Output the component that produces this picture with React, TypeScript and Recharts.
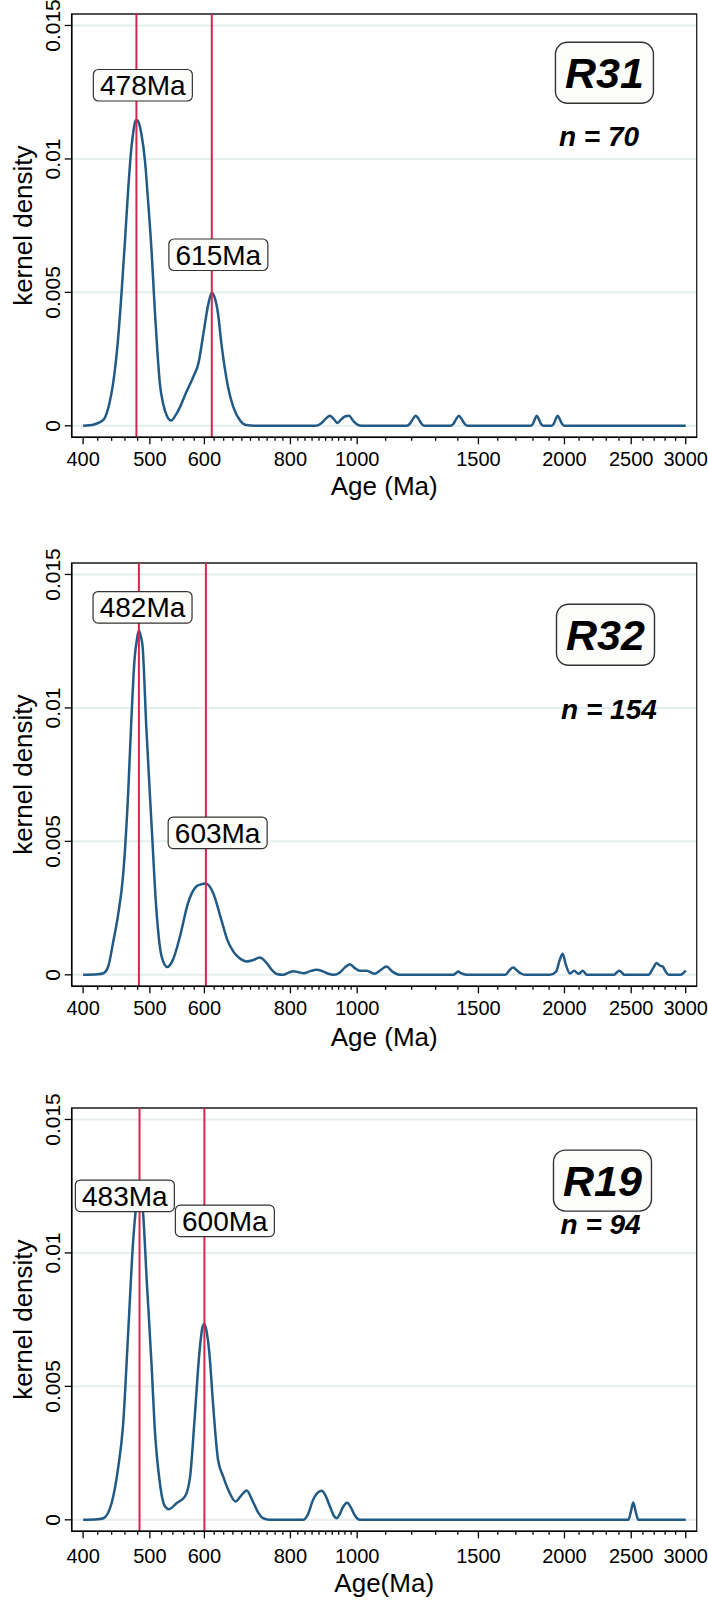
import React from "react";
import {
  LineChart,
  Line,
  XAxis,
  YAxis,
  CartesianGrid,
  ReferenceLine,
  ReferenceDot,
  ReferenceArea,
  Label,
} from "recharts";

const NARROW = "'Liberation Sans Narrow', 'Arial Narrow', 'Liberation Sans', Arial, sans-serif";
const SANS = "'Liberation Sans', Arial, Helvetica, sans-serif";

const AGE_MIN = 385;
const AGE_MAX = 3112;
const DENS_MIN = -0.00043;
const DENS_MAX = 0.01543;

const majorTicks = [400, 500, 600, 800, 1000, 1500, 2000, 2500, 3000];
const minorTicks = [
  420, 440, 460, 480, 520, 540, 560, 580, 620, 640, 660, 680, 700, 720, 740, 760, 780,
  820, 840, 860, 880, 900, 920, 940, 960, 980, 1100, 1200, 1300, 1400, 1600, 1700, 1800,
  1900, 2100, 2200, 2300, 2400, 2600, 2700, 2800, 2900,
];
const densityTicks = [0, 0.005, 0.01, 0.015];

// R31 kernel density
const r31Age = [
  400, 415, 428, 436, 442, 449, 455, 460, 465, 470, 473, 476, 478, 481, 486, 492, 497, 503,
  508, 513, 517, 523, 529, 537, 545, 553, 562, 578, 588, 598, 608, 615, 621, 628, 635, 642,
  650, 661, 676, 690, 710,
  870, 885, 900, 913, 925, 936, 948, 960, 973, 986, 1000, 1015,
  1180, 1193, 1205, 1216, 1228, 1240, 1254,
  1365, 1380, 1393, 1405, 1418, 1432, 1448,
  1788, 1800, 1812, 1823, 1835, 1848, 1862,
  1915, 1930, 1943, 1955, 1968, 1983, 1998,
  3000,
];
const r31Density = [
  0, 0.00005, 0.00022, 0.00076, 0.00156, 0.0031, 0.00505, 0.0069, 0.00885, 0.0104, 0.011,
  0.0114, 0.01147, 0.0114, 0.01094, 0.0099, 0.00844, 0.0065, 0.00445, 0.0027, 0.00158,
  0.0008, 0.00039, 0.0002, 0.0004, 0.0007, 0.00114, 0.00183, 0.00233, 0.00345, 0.00457,
  0.00499, 0.0048, 0.0042, 0.0031, 0.0022, 0.0014, 0.0007, 0.0002, 0.00003, 0,
  0, 0.00008, 0.00026, 0.00038, 0.00025, 0.00011, 0.00024, 0.00035, 0.00038, 0.0002, 0.00005, 0,
  0, 0.00008, 0.00026, 0.00038, 0.00026, 0.00008, 0,
  0, 0.00008, 0.00026, 0.00038, 0.00026, 0.00008, 0,
  0, 0.00008, 0.00026, 0.00038, 0.00026, 0.00008, 0,
  0, 0.00008, 0.00026, 0.00038, 0.00026, 0.00008, 0,
  0,
];

// R32 kernel density
const r32Age = [
  400, 420, 428, 435, 442, 450, 457, 465, 470, 475, 479, 482, 485, 488, 494, 503, 511, 520,
  530, 540, 553, 568, 584, 592, 603, 618, 635, 648, 661, 675, 691, 706, 722, 739, 752, 764,
  781, 795, 808, 822, 836, 855, 873, 890, 908, 923, 944, 960, 976, 992, 1009, 1032, 1061,
  1082, 1103, 1125, 1154,
  1380, 1392, 1402, 1415, 1440,
  1641, 1665, 1685, 1710, 1730, 1752,
  1905, 1945, 1968, 1988, 2008, 2037, 2066, 2097, 2126, 2155,
  2358, 2385, 2402, 2420, 2443,
  2648, 2690, 2722, 2750, 2778, 2805, 2834,
  2943, 2975, 3000,
];
const r32Density = [
  0, 0.00002, 0.00006, 0.00031, 0.00119, 0.00231, 0.00368, 0.00681, 0.00956, 0.01181, 0.0126,
  0.0129, 0.0127, 0.0123, 0.00931, 0.00556, 0.00244, 0.00069, 0.00029, 0.00056, 0.00144,
  0.00269, 0.00331, 0.00338, 0.00342, 0.00306, 0.00206, 0.0013, 0.00087, 0.00062, 0.0005,
  0.00055, 0.00065, 0.00044, 0.00018, 0.00003, 0, 0.00008, 0.00013, 0.0001, 0.00006, 0.00014,
  0.00019, 0.00014, 0.00004, 0, 0.00009, 0.00028, 0.0004, 0.00025, 0.00015, 0.00015, 0.00004,
  0.00018, 0.00031, 0.00012, 0,
  0, 0.00007, 0.00012, 0.00006, 0,
  0, 0.00018, 0.00027, 0.00014, 0.00005, 0,
  0, 0.00012, 0.00055, 0.00079, 0.0004, 0.00005, 0.00015, 0.00004, 0.00015, 0,
  0, 0.0001, 0.00015, 0.0001, 0,
  0, 0.00025, 0.00044, 0.00035, 0.00031, 0.00012, 0,
  0, 0.00006, 0.00016,
];

// R19 kernel density
const r19Age = [
  400, 420, 428, 440, 450, 457, 465, 473, 478, 483, 488, 495, 503, 508, 517, 526, 533, 547,
  562, 567, 572, 581, 590, 596, 600, 604, 610, 618, 628, 639, 650, 666, 678, 691, 705, 718,
  730, 745,
  835, 848, 863, 875, 888, 900, 913, 925, 934, 943, 952, 967, 980, 993, 1009,
  2476, 2497, 2517, 2538, 2560,
  3000,
];
const r19Density = [
  0, 0.00002, 0.00006, 0.00063, 0.002, 0.0035, 0.007, 0.0105, 0.0118, 0.0122, 0.0117, 0.00887,
  0.00575, 0.0035, 0.00138, 0.0005, 0.0004, 0.00063, 0.00087, 0.0011, 0.00162, 0.00387,
  0.00625, 0.0072, 0.00735, 0.0071, 0.00625, 0.00425, 0.00225, 0.00162, 0.00112, 0.00069,
  0.0009, 0.0011, 0.0007, 0.00028, 0.00006, 0,
  0, 0.0002, 0.00075, 0.001, 0.00109, 0.0009, 0.0005, 0.00015, 0.00006, 0.0002, 0.00044,
  0.00064, 0.00045, 0.00015, 0,
  0, 0.0003, 0.00065, 0.0003, 0,
  0,
];

type PeakLabel = { age: number; text: string; x: number; y: number };

type Panel = {
  top: number;
  sample: string;
  n: number;
  data: { age: number; density: number }[];
  peaks: PeakLabel[];
  sampleAt: [number, number];
  countAt: [number, number];
  title: string;
  tickDy: number;
  titleDy: number;
};

const zip = (ages: number[], dens: number[]) => ages.map((age, i) => ({ age, density: dens[i] }));

const panels: Panel[] = [
  {
    top: 0,
    sample: "R31",
    n: 70,
    data: zip(r31Age, r31Density),
    peaks: [
      { age: 478, text: "478Ma", x: 488.4, y: 0.01276 },
      { age: 615, text: "615Ma", x: 628.7, y: 0.00641 },
    ],
    sampleAt: [2286, 0.01323],
    countAt: [2245, 0.01085],
    title: "Age (Ma)",
    tickDy: 29,
    titleDy: 58,
  },
  {
    top: 549.3,
    sample: "R32",
    n: 154,
    data: zip(r32Age, r32Density),
    peaks: [
      { age: 482, text: "482Ma", x: 487.9, y: 0.01377 },
      { age: 603, text: "603Ma", x: 627.2, y: 0.00532 },
    ],
    sampleAt: [2294, 0.01274],
    countAt: [2321, 0.00997],
    title: "Age (Ma)",
    tickDy: 29,
    titleDy: 60,
  },
  {
    top: 1094.3,
    sample: "R19",
    n: 94,
    data: zip(r19Age, r19Density),
    peaks: [
      { age: 483, text: "483Ma", x: 459.9, y: 0.01214 },
      { age: 600, text: "600Ma", x: 642.5, y: 0.0112 },
    ],
    sampleAt: [2271, 0.01271],
    countAt: [2257, 0.01109],
    title: "Age(Ma)",
    tickDy: 31.5,
    titleDy: 61,
  },
];

const makeAgeTick = (dy: number) => (props: any) => {
  const { x, y, payload } = props;
  const major = majorTicks.includes(payload.value);
  return (
    <g>
      <line x1={x} x2={x} y1={y} y2={y + (major ? 7 : 3.5)} stroke="#000" strokeWidth={1.3} />
      {major && (
        <text x={x} y={y + dy} textAnchor="middle" fontSize={20} fontFamily={NARROW} fill="#000">
          {payload.value}
        </text>
      )}
    </g>
  );
};

const DensityTick = (props: any) => {
  const { x, y, payload } = props;
  const bx = x - 12;
  return (
    <g>
      <line x1={x - 7} x2={x} y1={y} y2={y} stroke="#000" strokeWidth={1.3} />
      <text
        x={bx}
        y={y}
        transform={`rotate(-90, ${bx}, ${y})`}
        textAnchor="middle"
        fontSize={21}
        fontFamily={NARROW}
        fill="#000"
      >
        {String(payload.value)}
      </text>
    </g>
  );
};

const peakBox = (text: string) => (props: any) => {
  const { cx, cy } = props;
  const w = 99;
  const h = 31.5;
  return (
    <g>
      <rect x={cx - w / 2} y={cy - h / 2} width={w} height={h} rx={5} fill="#fcfcfa" stroke="#333" strokeWidth={1.2} />
      <text x={cx} y={cy + 10} textAnchor="middle" fontSize={28} fontFamily={SANS} fill="#000">
        {text}
      </text>
    </g>
  );
};

const sampleBox = (text: string) => (props: any) => {
  const { cx, cy } = props;
  const w = 98;
  const h = 61;
  return (
    <g>
      <rect x={cx - w / 2} y={cy - h / 2} width={w} height={h} rx={12} fill="#fcfcfa" stroke="#333" strokeWidth={1.4} />
      <text
        x={cx}
        y={cy + 15}
        textAnchor="middle"
        fontSize={43}
        fontWeight="bold"
        fontStyle="italic"
        fontFamily={SANS}
        fill="#000"
      >
        {text}
      </text>
    </g>
  );
};

const countText = (n: number) => (props: any) => {
  const { cx, cy } = props;
  return (
    <text
      x={cx}
      y={cy + 10}
      textAnchor="middle"
      fontSize={28}
      fontWeight="bold"
      fontStyle="italic"
      fontFamily={SANS}
      fill="#000"
    >
      {`n = ${n}`}
    </text>
  );
};

function DensityPanel({ panel }: { panel: Panel }) {
  return (
    <div style={{ position: "absolute", left: 0, top: panel.top }}>
      <LineChart
        width={708}
        height={506}
        data={panel.data}
        margin={{ top: 14, right: 11.3, bottom: 8.7, left: 0 }}
      >
        <CartesianGrid horizontal vertical={false} stroke="#e6eeee" strokeWidth={2} />
        <XAxis
          dataKey="age"
          type="number"
          scale="log"
          domain={[AGE_MIN, AGE_MAX]}
          allowDataOverflow
          ticks={[...majorTicks, ...minorTicks]}
          interval={0}
          tickSize={0}
          tickMargin={0}
          tickLine={false}
          tick={makeAgeTick(panel.tickDy)}
          height={60}
          axisLine={{ stroke: "#000", strokeWidth: 1.5 }}
        >
          <Label
            content={({ viewBox }: any) => (
              <text
                x={viewBox.x + viewBox.width / 2}
                y={viewBox.y + panel.titleDy}
                textAnchor="middle"
                fontSize={26}
                fontFamily={SANS}
                fill="#000"
              >
                {panel.title}
              </text>
            )}
          />
        </XAxis>
        <YAxis
          type="number"
          domain={[DENS_MIN, DENS_MAX]}
          allowDataOverflow
          ticks={densityTicks}
          interval={0}
          width={71.7}
          tickSize={0}
          tickMargin={0}
          tickLine={false}
          tick={DensityTick}
          axisLine={{ stroke: "#000", strokeWidth: 1.5 }}
        >
          <Label
            content={({ viewBox }: any) => {
              const cy = viewBox.y + viewBox.height / 2;
              return (
                <text
                  x={32}
                  y={cy}
                  transform={`rotate(-90, 32, ${cy})`}
                  textAnchor="middle"
                  fontSize={26}
                  fontFamily={SANS}
                  fill="#000"
                >
                  kernel density
                </text>
              );
            }}
          />
        </YAxis>
        <ReferenceArea
          x1={AGE_MIN}
          x2={AGE_MAX}
          y1={DENS_MIN}
          y2={DENS_MAX}
          fill="none"
          stroke="#222"
          strokeWidth={1.3}
          fillOpacity={0}
        />
        <Line
          type="monotone"
          dataKey="density"
          stroke="#215a85"
          strokeWidth={2.5}
          dot={false}
          isAnimationActive={false}
        />
        {panel.peaks.map((p) => (
          <ReferenceLine key={p.age} x={p.age} stroke="#d6264d" strokeWidth={2} />
        ))}
        {panel.peaks.map((p) => (
          <ReferenceDot key={p.text} x={p.x} y={p.y} shape={peakBox(p.text)} />
        ))}
        <ReferenceDot x={panel.sampleAt[0]} y={panel.sampleAt[1]} shape={sampleBox(panel.sample)} />
        <ReferenceDot x={panel.countAt[0]} y={panel.countAt[1]} shape={countText(panel.n)} />
      </LineChart>
    </div>
  );
}

export default function App() {
  return (
    <div
      style={{
        position: "absolute",
        left: 0,
        top: 0,
        width: 708,
        height: 1600,
        overflow: "hidden",
        background: "#fff",
      }}
    >
      {panels.map((p) => (
        <DensityPanel key={p.sample} panel={p} />
      ))}
    </div>
  );
}
